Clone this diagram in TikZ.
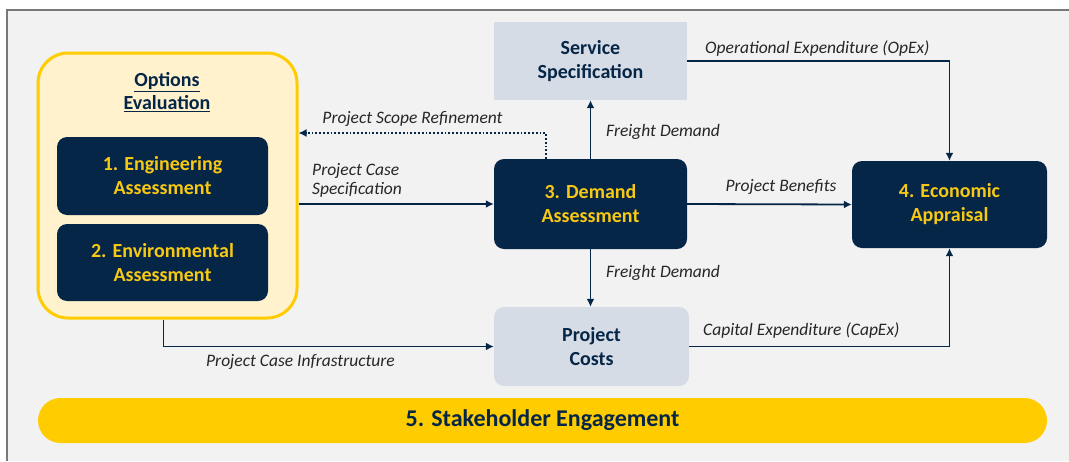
\documentclass[tikz,border=0pt]{standalone}
\usepackage{fontspec}
\setmainfont{Carlito}
\usetikzlibrary{arrows.meta,calc}
\definecolor{navy}{RGB}{6,38,72}
\definecolor{gold}{RGB}{255,204,0}
\definecolor{goldtext}{RGB}{247,200,20}
\definecolor{paleyellow}{RGB}{255,242,204}
\definecolor{slate}{RGB}{214,220,229}
\definecolor{panel}{RGB}{242,242,242}
\definecolor{framegray}{RGB}{120,120,120}
\tikzset{
  darkbox/.style={rectangle, rounded corners=10pt, fill=navy, text=goldtext,
    font=\fontsize{20}{24}\selectfont\bfseries, align=center},
  lightbox/.style={rectangle, fill=slate, text=navy,
    font=\fontsize{20}{24}\selectfont\bfseries, align=center},
  flowlabel/.style={font=\fontsize{17.5}{19}\selectfont\itshape, text=black!85, inner sep=0pt},
  arr/.style={draw=navy, line width=1.8pt, -{Latex[length=8pt,width=8pt]}},
  dotarr/.style={draw=navy, line width=1.8pt, dotted, -{Latex[length=8pt,width=8pt]}},
}
\begin{document}
\begin{tikzpicture}[x=1pt,y=-1pt]
\useasboundingbox (0,0) rectangle (1069,461);
% panel and frame
\fill[panel] (7,10) rectangle (1069,461);
\draw[framegray, line width=1.5pt] (7,461) -- (7,10) -- (1069,10);

% options evaluation group
\node[rectangle, rounded corners=30pt, draw=gold, line width=3pt, fill=paleyellow,
  minimum width=259pt, minimum height=265pt] (opt) at (167.5,185.5) {};
\node[font=\fontsize{20}{23}\selectfont\bfseries, text=navy, align=center] (opttitle) at (167,92.5)
  {\underline{Options}\\\underline{Evaluation}};
\node[darkbox, minimum width=211pt, minimum height=78pt] (eng) at (162.5,176) {1. Engineering\\Assessment};
\node[darkbox, minimum width=211pt, minimum height=77pt] (env) at (162.5,262.5) {2. Environmental\\Assessment};

% main process boxes
\node[lightbox, minimum width=193pt, minimum height=78pt] (svc) at (590.5,61) {Service\\Specification};
\node[darkbox, minimum width=193pt, minimum height=90pt] (dem) at (590.5,204) {3. Demand\\Assessment};
\node[darkbox, minimum width=195pt, minimum height=87pt] (eco) at (949.5,204.5) {4. Economic\\Appraisal};
\node[lightbox, rounded corners=10pt, minimum width=195pt, minimum height=79pt] (pc) at (591.5,346.5) {Project\\Costs};
\node[rectangle, rounded corners=22.5pt, fill=gold, text=navy, minimum width=1009pt, minimum height=45pt,
  font=\fontsize{24}{28}\selectfont\bfseries] (stake) at (542.5,420.5) {5. Stakeholder Engagement};

% connectors
\coordinate (scope) at (546,133);
\draw[arr] (opt.east |- dem.west) -- (dem.west);
\draw[dotarr] ([xshift=-44.5pt]dem.north) |- (opt.east |- scope);
\draw[arr] (dem.north) -- (svc.south);
\draw[arr] (dem.east) -- (eco.west);
\draw[arr] (svc.east) -| (eco.north);
\draw[arr] (dem.south) -- (dem.south |- pc.north);
\draw[arr] ([xshift=-4pt]opt.south) |- (pc.west);
\draw[arr] (pc.east) -| (eco.south);

% connector labels
\node[flowlabel, anchor=west, align=left] (lspec) at (312,180.5) {Project Case\\Specification};
\node[flowlabel] (lscope) at (412.5,119) {Project Scope Refinement};
\node[flowlabel, anchor=west] (lfd1) at (606,132) {Freight Demand};
\node[flowlabel] (lben) at (781,187) {Project Benefits};
\node[flowlabel, anchor=west] (lopex) at (705,49) {Operational Expenditure (OpEx)};
\node[flowlabel, anchor=west] (lfd2) at (606,273) {Freight Demand};
\node[flowlabel, anchor=west] (linfra) at (206,362) {Project Case Infrastructure};
\node[flowlabel, anchor=west] (lcapex) at (703,331) {Capital Expenditure (CapEx)};
\end{tikzpicture}
\end{document}
